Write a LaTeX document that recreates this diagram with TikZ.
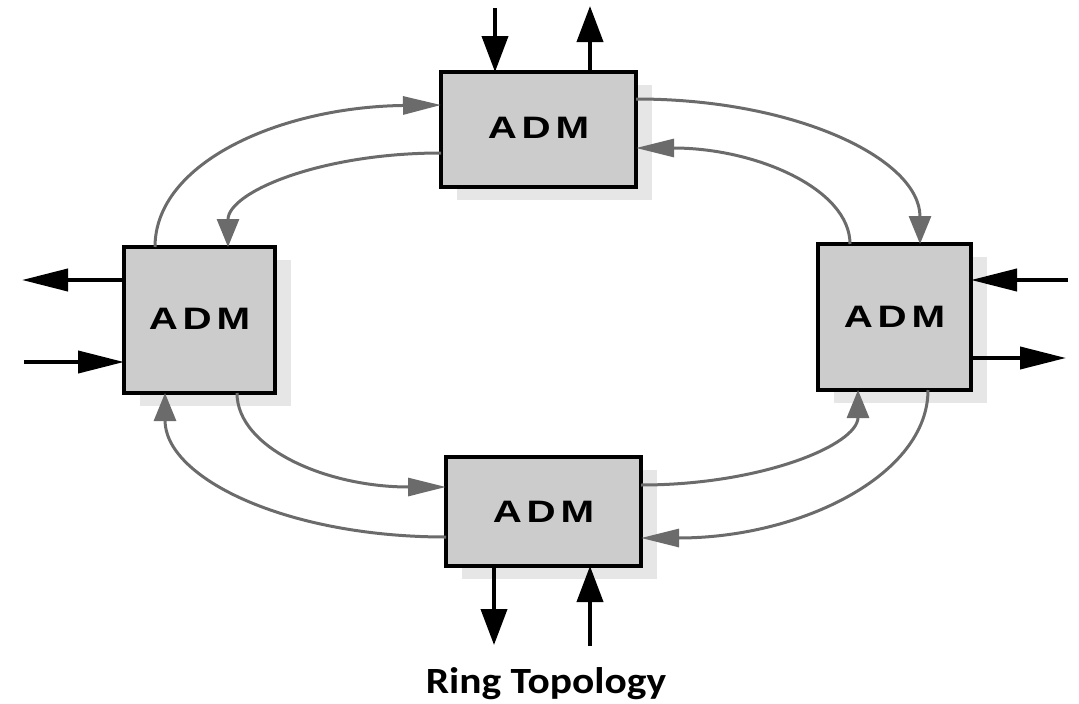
\documentclass[tikz,border=0pt]{standalone}
\usepackage{fontspec}
\usepackage{graphicx}
\usetikzlibrary{arrows.meta,shadows,calc}
\newfontfamily\admfont[LetterSpace=12]{Liberation Sans}
\newfontfamily\capfont{Carlito}
\definecolor{boxfill}{HTML}{CCCCCC}
\definecolor{shadowfill}{HTML}{E6E6E6}
\definecolor{ringgray}{HTML}{6B6B6B}

\begin{document}
\begin{tikzpicture}[x=1pt,y=-1pt,
  adm/.style={draw=black, line width=4pt, fill=boxfill, inner sep=0pt, outer sep=0pt,
    drop shadow={shadow xshift=16pt, shadow yshift=-13pt, fill=shadowfill, opacity=1},
    font=\admfont\bfseries\fontsize{31}{31}\selectfont},
  feedv/.style={draw=black, line width=4pt, -{Triangle[length=36pt,width=26pt]}},
  feedh/.style={draw=black, line width=4pt, -{Triangle[length=46pt,width=22pt]}},
  ringh/.style={draw=ringgray, line width=3pt, -{Triangle[length=38pt,width=18pt]}},
  ringv/.style={draw=ringgray, line width=3pt, -{Triangle[length=28pt,width=22pt]}},
  caption/.style={font=\capfont\bfseries\fontsize{37}{37}\selectfont, anchor=base}]

\useasboundingbox (0,0) rectangle (1079,704);

% add-drop multiplexers
\node[adm, minimum width=195pt, minimum height=115pt] (T) at (538.5,129.5) {\raisebox{3pt}{\scalebox{1.3}[1]{ADM}}};
\node[adm, minimum width=151pt, minimum height=146pt] (L) at (199.5,320) {\raisebox{3pt}{\scalebox{1.3}[1]{ADM}}};
\node[adm, minimum width=153pt, minimum height=146pt] (R) at (894.5,317) {\raisebox{1pt}{\scalebox{1.3}[1]{ADM}}};
\node[adm, minimum width=195pt, minimum height=109pt] (B) at (543.5,511.5) {\raisebox{-2pt}{\scalebox{1.3}[1]{ADM}}};

% ports on the box edges
\coordinate (Tl1) at ($(T.north west)+(0,33)$);
\coordinate (Tl2) at ($(T.north west)+(0,81)$);
\coordinate (Tr1) at ($(T.north east)+(0,27)$);
\coordinate (Tr2) at ($(T.north east)+(0,76)$);
\coordinate (Tt1) at ($(T.north west)+(54,0)$);
\coordinate (Tt2) at ($(T.north west)+(149,0)$);

\coordinate (Lt1) at ($(L.north west)+(31,0)$);
\coordinate (Lt2) at ($(L.north west)+(104,0)$);
\coordinate (Lb1) at ($(L.south west)+(41,0)$);
\coordinate (Lb2) at ($(L.south west)+(113,0)$);
\coordinate (Lw1) at ($(L.north west)+(0,33)$);
\coordinate (Lw2) at ($(L.north west)+(0,115)$);

\coordinate (Rt1) at ($(R.north west)+(102,0)$);
\coordinate (Rt2) at ($(R.north west)+(32,0)$);
\coordinate (Rb1) at ($(R.south west)+(40,0)$);
\coordinate (Rb2) at ($(R.south west)+(110,0)$);
\coordinate (Re1) at ($(R.north east)+(0,36)$);
\coordinate (Re2) at ($(R.north east)+(0,114)$);

\coordinate (Bl1) at ($(B.north west)+(0,30)$);
\coordinate (Bl2) at ($(B.north west)+(0,80)$);
\coordinate (Br1) at ($(B.north east)+(0,28)$);
\coordinate (Br2) at ($(B.north east)+(0,81)$);
\coordinate (Bb1) at ($(B.south west)+(48,0)$);
\coordinate (Bb2) at ($(B.south west)+(144,0)$);

% free ends of the tributary lines
\coordinate (tin)  at ($(Tt1)+(0,-64)$);
\coordinate (tout) at ($(Tt2)+(0,-66)$);
\coordinate (lout) at ($(Lw1)+(-102,0)$);
\coordinate (lin)  at ($(Lw2)+(-100,0)$);
\coordinate (rin)  at ($(Re1)+(97,0)$);
\coordinate (rout) at ($(Re2)+(95,0)$);
\coordinate (bout) at ($(Bb1)+(0,79)$);
\coordinate (bin)  at ($(Bb2)+(0,80)$);

% ring connections
\draw[ringh] (Lt1) .. controls +(0,-85) and +(-160,2) .. (Tl1);
\draw[ringv] (Tl2) .. controls +(-120,0) and +(0,-55) .. (Lt2);
\draw[ringv] (Tr1) .. controls +(160,0) and +(0,-85) .. (Rt1);
\draw[ringh] (Rt2) .. controls +(0,-55) and +(120,0) .. (Tr2);
\draw[ringv] (Bl2) .. controls +(-160,0) and +(0,85) .. (Lb1);
\draw[ringh] (Lb2) .. controls +(0,55) and +(-120,0) .. (Bl1);
\draw[ringv] (Br1) .. controls +(120,0) and +(0,55) .. (Rb1);
\draw[ringh] (Rb2) .. controls +(0,85) and +(160,0) .. (Br2);

% tributary add/drop lines
\draw[feedv] (tin) -- (Tt1);
\draw[feedv] (Tt2) -- (tout);
\draw[feedh] (Lw1) -- (lout);
\draw[feedh] (lin) -- (Lw2);
\draw[feedh] (rin) -- (Re1);
\draw[feedh] (Re2) -- (rout);
\draw[feedv] (Bb1) -- (bout);
\draw[feedv] (bin) -- (Bb2);

\node[caption] (cap) at (546,693) {\scalebox{1.12}[1]{Ring Topology}};
\end{tikzpicture}
\end{document}
